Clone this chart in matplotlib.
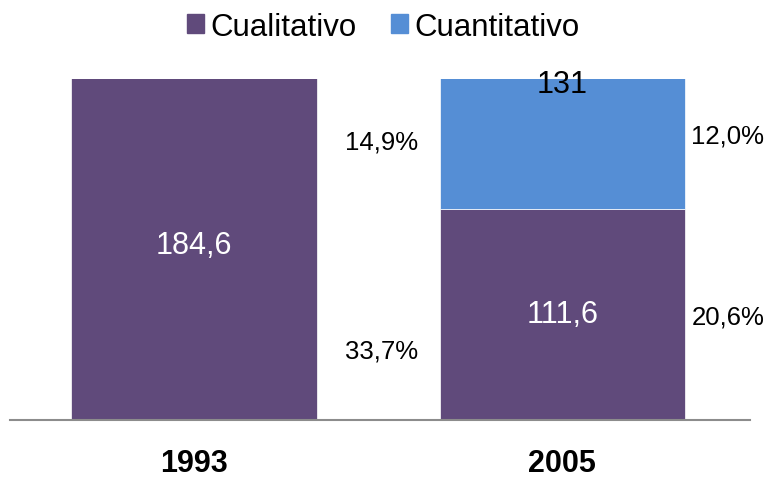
import matplotlib.pyplot as plt
from matplotlib.patches import Patch

plt.rcParams['font.family'] = ['Liberation Sans', 'DejaVu Sans']

years = ['1993', '2005']
cualitativo = [184.6, 111.6]
cuantitativo = [0, 131]
pct_top = ['14,9%', '12,0%']
pct_bottom = ['33,7%', '20,6%']

purple = '#604A7B'
blue = '#558ED5'

fig = plt.figure(figsize=(7.67, 4.81), dpi=100)
ax = fig.add_axes([10 / 767, 1 - 421 / 481, 740 / 767, 341 / 481])

x = range(len(years))
ax.bar(x, cualitativo, width=0.666, color=purple, edgecolor='white', linewidth=0.5)
ax.bar(x, cuantitativo, width=0.666, bottom=cualitativo, color=blue, edgecolor='white', linewidth=0.5)

ax.set_xlim(-0.5, 1.51)
ax.set_ylim(0, 180)

# value labels in the middle of each segment
for i in x:
    ax.text(i, cualitativo[i] / 2, f'{cualitativo[i]:.1f}'.replace('.', ','),
            ha='center', va='center', color='white', fontsize=22)
    if cuantitativo[i]:
        ax.text(i, cualitativo[i] + cuantitativo[i] / 2, f'{cuantitativo[i]:g}',
                ha='center', va='center', color='black', fontsize=22, clip_on=False)

# percentage labels right of the bars
pct_x = [0.51, 0.45]
pct_y_top = [147, 150]
pct_y_bot = [36.5, 54.5]
for i in x:
    ax.text(i + pct_x[i], pct_y_top[i], pct_top[i], ha='center', va='center', fontsize=18.5)
    ax.text(i + pct_x[i], pct_y_bot[i], pct_bottom[i], ha='center', va='center', fontsize=18.5)

ax.set_xticks(list(x))
ax.set_xticklabels(years, fontsize=22, fontweight='bold')
ax.tick_params(axis='x', length=0, pad=20)
ax.set_yticks([])
for s in ['top', 'right', 'left']:
    ax.spines[s].set_visible(False)
ax.spines['bottom'].set_color('#8C8C8C')
ax.spines['bottom'].set_linewidth(1.5)

handles = [Patch(color=purple, label='Cualitativo'), Patch(color=blue, label='Cuantitativo')]
fig.legend(handles=handles, loc='center', bbox_to_anchor=(0.5, 0.942), ncol=2, frameon=False,
           fontsize=22.5, handlelength=0.55, handleheight=0.55, handletextpad=0.2, columnspacing=1.1,
           borderpad=0)

fig.savefig('out.png', dpi=100)
